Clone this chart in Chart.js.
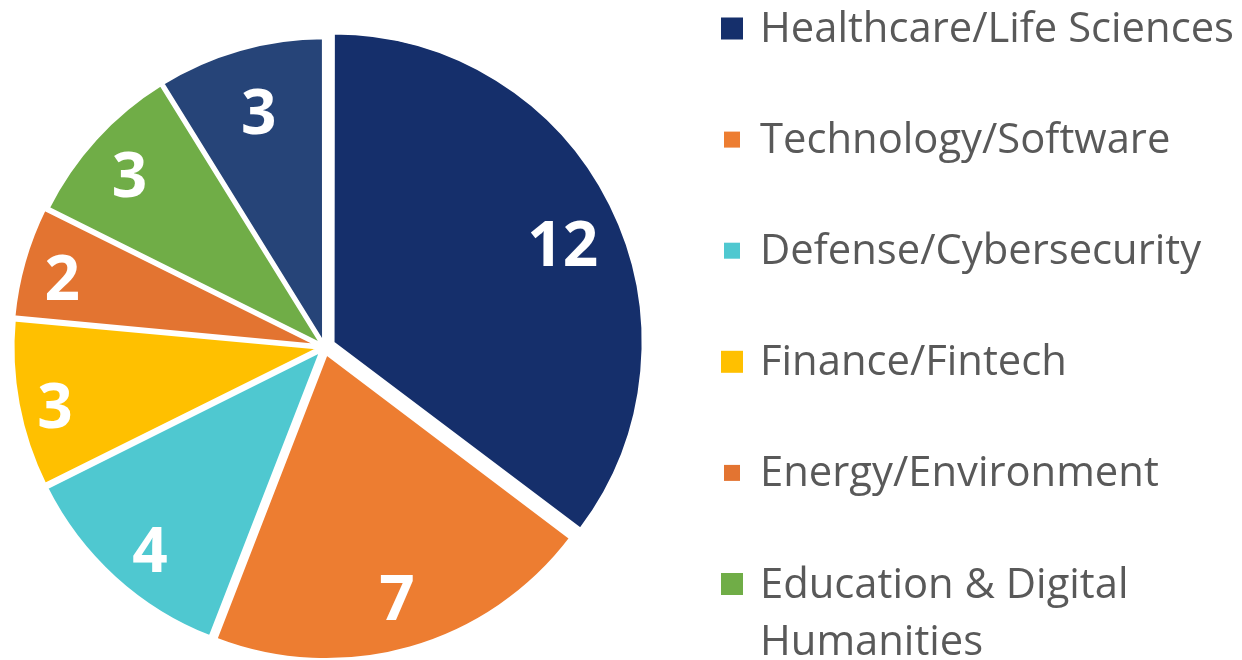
<!DOCTYPE html>
<html>
<head>
<meta charset="utf-8">
<script src="https://cdn.jsdelivr.net/npm/chart.js@4/dist/chart.umd.min.js"></script>
<style>
html,body{margin:0;padding:0;background:#fff;overflow:hidden;}
#c{display:block;}
</style>
</head>
<body>
<canvas id="c" width="1242" height="660"></canvas>
<script>
// ---- data ----
const categories = [
  "Healthcare/Life Sciences",
  "Technology/Software",
  "Defense/Cybersecurity",
  "Finance/Fintech",
  "Energy/Environment",
  "Education & Digital Humanities",
  "Other"
];
const values = [12, 7, 4, 3, 2, 3, 3];
const colors = ["#152F6B", "#ED7D31", "#4FC8D0", "#FFC000", "#E37431", "#70AD47", "#264478"];

// ---- style ----
const sliceOffsets = [40, 24, 16, 14, 14, 8, 8];          // Chart.js arc offset option
const sliceBorders = [2, 4, 4, 4, 4, 4, 4];
const labelRadiusFrac = [0.814, 0.83, 0.858, 0.887, 0.873, 0.842, 0.791];
const labelAngleFrac  = [0.523, 0.497, 0.462, 0.449, 0.454, 0.473, 0.509];
const markerSizes = [22, 16, 16, 22, 16, 22, 16];

const labelPlugin = {
  id: 'sliceLabels',
  afterDatasetsDraw(chart) {
    const ctx = chart.ctx;
    const meta = chart.getDatasetMeta(0);
    ctx.save();
    ctx.font = 'bold 62px "Open Sans"';
    ctx.fillStyle = '#ffffff';
    ctx.textAlign = 'center';
    ctx.textBaseline = 'alphabetic';
    meta.data.forEach((arc, i) => {
      const p = arc.getProps(['x', 'y', 'startAngle', 'endAngle', 'outerRadius'], true);
      const t = sliceOffsets[i] / 4;
      const mid = (p.startAngle + p.endAngle) / 2;
      const cx = p.x + Math.cos(mid) * t;
      const cy = p.y + Math.sin(mid) * t;
      const a = p.startAngle + (p.endAngle - p.startAngle) * labelAngleFrac[i];
      const r = p.outerRadius * labelRadiusFrac[i];
      const txt = String(values[i]);
      const m = ctx.measureText(txt);
      ctx.fillText(txt, cx + Math.cos(a) * r, cy + Math.sin(a) * r + m.actualBoundingBoxAscent / 2);
    });
    ctx.restore();
  }
};

const legendPlugin = {
  id: 'sideLegend',
  afterDraw(chart) {
    const ctx = chart.ctx;
    ctx.save();
    ctx.font = '41.5px "Open Sans"';
    const targetW = 474;
    const sx = targetW / ctx.measureText(categories[0]).width;
    const maxW = 485;
    const textX = 760, markX = 732;
    const firstBase = 42, rowStep = 111.1, lineStep = 57;
    categories.forEach((label, i) => {
      const base = firstBase + i * rowStep;
      const s = markerSizes[i];
      ctx.fillStyle = colors[i];
      ctx.fillRect(markX - s / 2, base - 13.5 - s / 2, s, s);
      const words = label.split(' ');
      const lines = [];
      let cur = '';
      words.forEach(w => {
        const test = cur ? cur + ' ' + w : w;
        if (ctx.measureText(test).width * sx > maxW && cur) { lines.push(cur); cur = w; }
        else cur = test;
      });
      if (cur) lines.push(cur);
      ctx.fillStyle = '#595959';
      lines.forEach((ln, k) => {
        ctx.save();
        ctx.translate(textX, base + k * lineStep);
        ctx.scale(sx, 1);
        ctx.fillText(ln, 0, 0);
        ctx.restore();
      });
    });
    ctx.restore();
  }
};

new Chart(document.getElementById('c'), {
  type: 'pie',
  data: {
    labels: categories,
    datasets: [{
      data: values,
      backgroundColor: colors,
      borderColor: '#ffffff',
      borderWidth: sliceBorders,
      offset: sliceOffsets,
      hoverOffset: 0,
      radius: 307,
      clip: false
    }]
  },
  options: {
    responsive: false,
    animation: false,
    events: [],
    layout: { padding: { left: 0, right: 592.8, top: 34.2, bottom: 0 } },
    plugins: { legend: { display: false }, tooltip: { enabled: false } }
  },
  plugins: [labelPlugin, legendPlugin]
});
</script>
</body>
</html>
